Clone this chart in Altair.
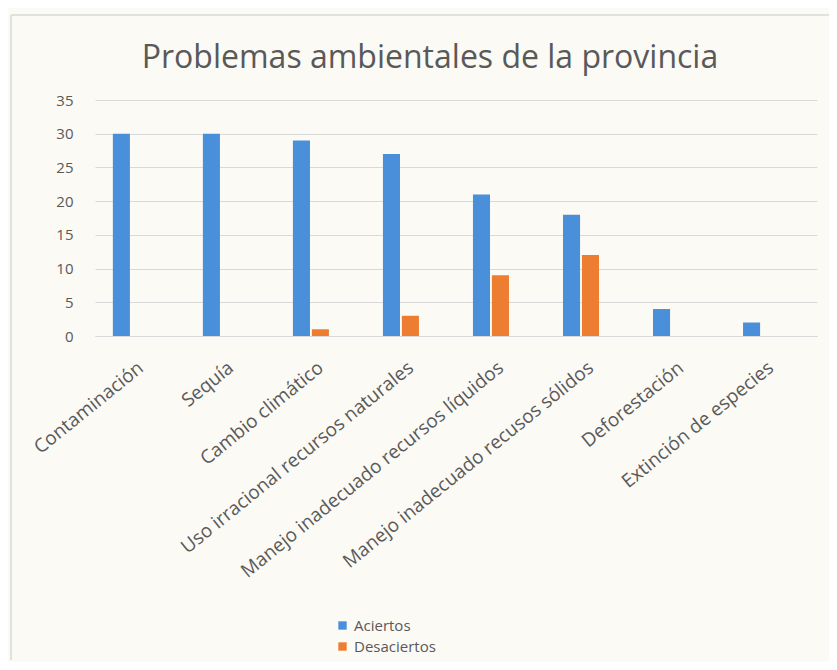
import altair as alt
import pandas as pd

categorias = ["Contaminación", "Sequía", "Cambio climático",
              "Uso irracional recursos naturales",
              "Manejo inadecuado recursos líquidos",
              "Manejo inadecuado recusos sólidos",
              "Deforestación", "Extinción de especies"]
aciertos = [30, 30, 29, 27, 21, 18, 4, 2]
desaciertos = [0, 0, 1, 3, 9, 12, 0, 0]
series = ["Aciertos", "Desaciertos"]
colores = ["#4A8FD9", "#ED7D31"]

rows = []
for c, a, d in zip(categorias, aciertos, desaciertos):
    rows.append({"cat": c, "serie": series[0], "valor": a})
    rows.append({"cat": c, "serie": series[1], "valor": d})
df = pd.DataFrame(rows)

FONT = "Open Sans"
GRAY = "#595959"
BORDER = "#D9D9D9"

top_border = alt.Chart(pd.DataFrame({"a": [0]})).mark_rule(
    color=BORDER, strokeWidth=1.5, clip=False
).encode(x=alt.value(-84), x2=alt.value(735), y=alt.value(-85))

left_border = alt.Chart(pd.DataFrame({"a": [0]})).mark_rule(
    color=BORDER, strokeWidth=1.5, clip=False
).encode(x=alt.value(-84), y=alt.value(-85), y2=alt.value(560))

bars = alt.Chart(df).mark_bar().encode(
    x=alt.X("cat:N", sort=categorias,
            scale=alt.Scale(paddingInner=0.6, paddingOuter=0.31, align=0.32),
            axis=alt.Axis(title=None, labelAngle=-39, labelAlign="right",
                          labelBaseline="middle", ticks=False, domain=True,
                          domainColor=BORDER, labelPadding=29, labelOffset=10,
                          labelFont=FONT, labelFontSize=19, labelColor=GRAY,
                          labelLimit=400)),
    xOffset=alt.XOffset("serie:N", sort=series,
                        scale=alt.Scale(paddingInner=0.1)),
    y=alt.Y("valor:Q", scale=alt.Scale(domain=[0, 35]),
            axis=alt.Axis(title=None, values=list(range(0, 36, 5)),
                          ticks=False, domain=False, gridColor=BORDER,
                          labelPadding=22, labelFont=FONT, labelFontSize=15,
                          labelColor=GRAY)),
    color=alt.Color("serie:N", sort=series,
                    scale=alt.Scale(domain=series, range=colores),
                    legend=alt.Legend(title=None, orient="none",
                                      legendX=240, legendY=518,
                                      symbolType="square", symbolSize=70,
                                      labelFont=FONT, labelFontSize=15,
                                      labelColor=GRAY, rowPadding=5)),
)

chart = alt.layer(bars, top_border, left_border).properties(
    width=722, height=236,
    autosize=alt.AutoSizeParams(type="none"),
    padding={"left": 87, "top": 92, "right": 12, "bottom": 326},
    background="#FBFAF5",
    title=alt.Title("Problemas ambientales de la provincia", font=FONT,
                    fontSize=32, fontWeight="normal", color=GRAY,
                    offset=-61, dx=-26, frame="group"),
).configure_view(stroke=None)

chart.save("out.html", embed_options={"renderer": "svg", "actions": False})
